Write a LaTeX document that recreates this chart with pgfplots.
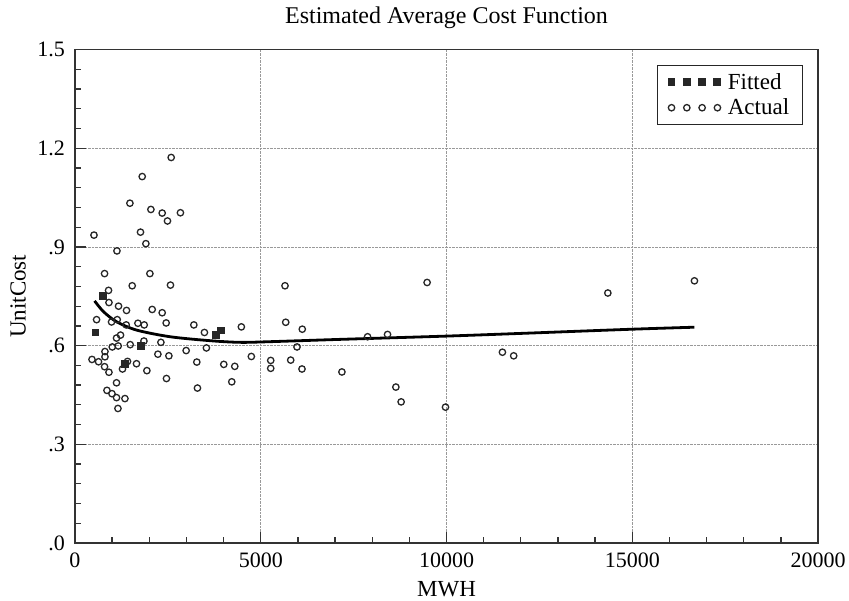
\documentclass[border=0pt]{standalone}
\usepackage{fontspec}
\setmainfont{Liberation Serif}
\usepackage{pgfplots}
\pgfplotsset{compat=1.18}

\begin{document}
\begin{tikzpicture}
\useasboundingbox (-75pt,-58pt) rectangle (774pt,543pt);
\begin{axis}[
    scale only axis,
    width=743pt, height=493.4pt,
    xmin=0, xmax=20000, ymin=0, ymax=1.5,
    scaled x ticks=false, scaled y ticks=false,
    xtick={0,5000,10000,15000,20000},
    xticklabels={0,5000,10000,15000,20000},
    ytick={0,0.3,0.6,0.9,1.2,1.5},
    yticklabels={.0,.3,.6,.9,1.2,1.5},
    minor x tick num=4, minor y tick num=4,
    xtick pos=bottom, ytick pos=left,
    tick align=inside,
    major tick length=11pt, minor tick length=6pt,
    grid=major,
    grid style={densely dotted, black!40, line width=0.7pt},
    axis line style={black!80, line width=1.6pt},
    tick style={black!80, line width=1.3pt},
    xticklabel style={font=\fontsize{22}{24}\selectfont, anchor=base, inner sep=0pt, yshift=-25pt},
    yticklabel style={font=\fontsize{22}{24}\selectfont, anchor=east, inner sep=0pt, xshift=-10pt},
    title={Estimated Average Cost Function},
    title style={font=\fontsize{24}{26}\selectfont, at={(axis description cs:0.5,1.041)}, anchor=base},
    xlabel={MWH},
    xlabel style={font=\fontsize{23}{25}\selectfont, at={(axis description cs:0.5,-0.109)}, anchor=base},
    ylabel={UnitCost},
    ylabel style={font=\fontsize{23}{25}\selectfont, at={(axis description cs:-0.0767,0.5)}, anchor=center},
    legend cell align=left,
    legend style={at={(axis description cs:0.9794,0.9688)}, anchor=north east,
        draw=black!85, line width=1.1pt,
        font=\fontsize{23}{26}\selectfont,
        inner xsep=11pt, inner ysep=6pt, row sep=4pt,
        /tikz/every odd column/.append style={column sep=5pt}},
    legend image code/.code={%
        \draw[#1, only marks] plot coordinates {(0pt,0pt) (15.3pt,0pt) (30.6pt,0pt) (45.9pt,0pt)};},
]
% fitted curve
\addplot[black, line width=2.8pt, smooth, no marks, forget plot] coordinates {
    (527,0.736) (769,0.703) (1129,0.672) (1667,0.647) (2562,0.627) (3637,0.615)
    (4443,0.610) (5250,0.612) (7131,0.619) (10000,0.629) (11960,0.637)
    (15015,0.650) (16674,0.656)
};
% fitted points
\addplot[only marks, mark=square*, mark size=3.4pt, black!85] coordinates {
    (742,0.753) (546,0.641) (3798,0.634) (3914,0.647) (1763,0.601) (1333,0.545)
};
% actual points
\addplot[only marks, mark=o, mark size=3.2pt, black!85,
    mark options={line width=1.3pt, fill=white}] coordinates {
    (2589,1.172) (1809,1.114) (1478,1.033) (2043,1.014) (2347,1.003) (2838,1.004)
    (2489,0.979) (511,0.936) (1763,0.945) (1908,0.910) (1129,0.888) (796,0.819)
    (2016,0.819) (1540,0.782) (2570,0.784) (903,0.768) (914,0.731) (1172,0.720)
    (1387,0.707) (2078,0.710) (2347,0.700) (581,0.679) (984,0.672) (1137,0.679)
    (1693,0.668) (1863,0.663) (2454,0.669) (1379,0.663) (3199,0.663) (4478,0.657)
    (1118,0.623) (1226,0.632) (3484,0.640) (1003,0.596) (1164,0.599) (1486,0.603)
    (1855,0.614) (2312,0.610) (806,0.582) (806,0.566) (2231,0.574) (2527,0.569)
    (2992,0.585) (3537,0.593) (4747,0.567) (457,0.558) (634,0.551) (796,0.536)
    (1414,0.552) (1656,0.545) (1279,0.529) (3279,0.550) (4005,0.543) (4301,0.537)
    (914,0.519) (1935,0.524) (1118,0.487) (2462,0.500) (4220,0.490) (860,0.464)
    (995,0.454) (1118,0.442) (1344,0.439) (3296,0.471) (1156,0.409) (5653,0.782)
    (5672,0.671) (6118,0.650) (9478,0.792) (7876,0.627) (8413,0.634) (5976,0.596)
    (5268,0.555) (5268,0.531) (5806,0.556) (6110,0.529) (7185,0.520) (8637,0.474)
    (8779,0.429) (9973,0.413) (11505,0.580) (11808,0.569) (14343,0.760) (16674,0.797)
};
\legend{Fitted, Actual}
\end{axis}
\end{tikzpicture}
\end{document}
